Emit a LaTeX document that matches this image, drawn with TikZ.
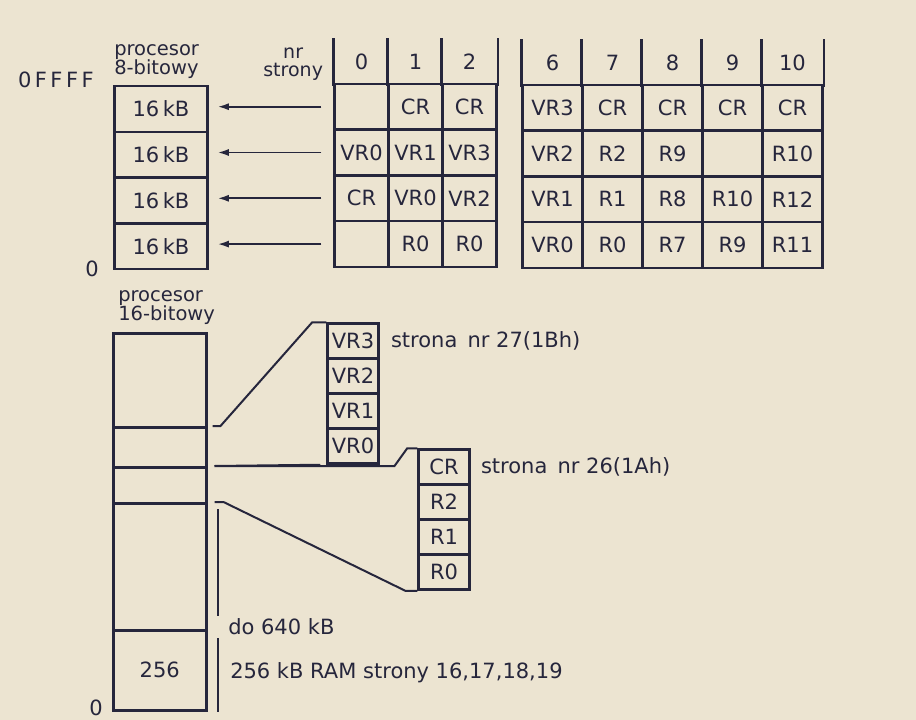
\documentclass[tikz,border=0pt]{standalone}
\usepackage{fontspec}
\setmainfont{DejaVu Sans}
\usetikzlibrary{matrix,positioning,arrows.meta,calc}
\definecolor{paper}{RGB}{236,228,209}
\definecolor{ink}{RGB}{38,38,60}
\newcommand{\lblfont}{\fontsize{19.5}{19}\selectfont}
\newcommand{\nrfont}{\fontsize{19}{18}\selectfont}

\begin{document}
\begin{tikzpicture}[x=1pt,y=-1pt,line width=2.5pt,color=ink,font=\fontsize{21}{21}\selectfont,
  cell/.style={shape=rectangle,draw=ink,inner sep=0pt,anchor=center},
  pages/.style={matrix of nodes,nodes in empty cells,row sep=-2.5pt,column sep=-2.5pt,inner sep=0pt,
    nodes={cell,minimum height=45.8pt},row 1/.style={nodes={draw=none}}},
  stack/.style={matrix of nodes,row sep=-2.5pt,inner sep=0pt,nodes={cell,minimum width=51pt,minimum height=35pt}},
  seg/.style={cell,minimum width=93pt},
  pgarrow/.style={line width=1.8pt,-{Latex[length=11pt,width=7pt]}},
  link/.style={line width=2pt}]
  \path[use as bounding box,fill=paper] (0,0) rectangle (916,720);

  \matrix (osm) [matrix of nodes,row sep=-2.5pt,inner sep=0pt,nodes={cell,minimum width=93pt,minimum height=45.8pt},anchor=north west] at (112,83.5) {
    16\,kB \\ 16\,kB \\ 16\,kB \\ 16\,kB \\
  };
  \node[anchor=south west,align=left,inner sep=1pt,font=\lblfont] (l8) at ([yshift=3pt]osm.north west) {procesor\\8-bitowy};
  \node[anchor=east,inner sep=0pt] (hi8) at ([xshift=-17pt,yshift=4pt]osm.north west) {0\,F\,F\,F\,F};
  \node[anchor=east,inner sep=0pt] (lo8) at ([xshift=-12pt,yshift=3pt]osm.south west) {0};

  \matrix (pa) [pages,nodes={minimum width=54pt},anchor=north west] at (332,38) {
    0 & 1 & 2 \\
      & CR & CR \\
    VR0 & VR1 & VR3 \\
    CR & VR0 & VR2 \\
      & R0 & R0 \\
  };
  \matrix (pb) [pages,nodes={minimum width=60pt},anchor=north west] at (520,39) {
    6 & 7 & 8 & 9 & 10 \\
    VR3 & CR & CR & CR & CR \\
    VR2 & R2 & R9 &  & R10 \\
    VR1 & R1 & R8 & R10 & R12 \\
    VR0 & R0 & R7 & R9 & R11 \\
  };
  \foreach \c in {1,2,3}
    \draw (pa-1-\c.north west) -- (pa-1-\c.south west);
  \draw (pa-1-3.north east) -- (pa-1-3.south east);
  \foreach \c in {1,...,5}
    \draw (pb-1-\c.north west) -- (pb-1-\c.south west);
  \draw (pb-1-5.north east) -- (pb-1-5.south east);
  \node[anchor=east,align=center,inner sep=0pt,font=\nrfont] (nrs) at ([xshift=-9pt,yshift=-2pt]pa-1-1.west) {nr\\strony};

  \foreach \k [evaluate=\k as \r using int(\k+1)] in {1,...,4}
    \draw[pgarrow] ([xshift=-12pt]pa-\r-1.west) -- ([xshift=9pt]osm-\k-1.east |- pa-\r-1.west);

  \node[seg,minimum height=94pt,anchor=north west] (m1) at (112,332) {};
  \node[seg,minimum height=40pt,below=-2.5pt of m1] (m2) {};
  \node[seg,minimum height=36pt,below=-2.5pt of m2] (m3) {};
  \node[seg,minimum height=127pt,below=-2.5pt of m3] (m4) {};
  \node[seg,minimum height=80pt,below=-2.5pt of m4] (m5) {256};
  \node[anchor=south west,align=left,inner sep=1pt,font=\lblfont] (l16) at ([xshift=4pt,yshift=5pt]m1.north west) {procesor\\16-bitowy};
  \node[anchor=east,inner sep=0pt] (lo16) at ([xshift=-8pt,yshift=4pt]m5.south west) {0};

  \matrix (vr) [stack,anchor=north west] at (325,321) {
    VR3 \\ VR2 \\ VR1 \\ VR0 \\
  };
  \matrix (cr) [stack,anchor=north west] at (416,447) {
    CR \\ R2 \\ R1 \\ R0 \\
  };
  \node[right=10pt of vr-1-1,inner sep=0pt] (p27) {strona\, nr 27(1Bh)};
  \node[right=9pt of cr-1-1,inner sep=0pt] (p26) {strona\, nr 26(1Ah)};

  \draw[link] ([xshift=5pt]m2.north east) -- ++(8,0) -- ([xshift=-14pt]vr-1-1.north west) -- (vr-1-1.north west);
  \draw[link] ([xshift=7pt]m3.north east) -- ([xshift=-6pt]vr-4-1.south west);
  \draw[link] ([xshift=7pt]m3.north east) -- ++(180,0) -- ([xshift=-10pt]cr-1-1.north west) -- (cr-1-1.north west);
  \draw[link] ([xshift=7pt]m4.north east) -- ++(9,0) -- ([xshift=-12pt]cr-4-1.south west) -- (cr-4-1.south west);

  \node[anchor=west,inner sep=2pt] (dol) at (225,627) {do 640 kB};
  \node[anchor=west,inner sep=0pt] (ram) at (229,673) {256 kB RAM strony 16,17,18,19};
  \coordinate (dtop) at ([xshift=10pt,yshift=-7pt]m4.north east);
  \coordinate (dbot) at ([xshift=10pt]m5.south east);
  \draw[link] (dtop) -- (dtop |- dol.north);
  \draw[link] (dbot |- dol.south) -- (dbot);
\end{tikzpicture}
\end{document}
